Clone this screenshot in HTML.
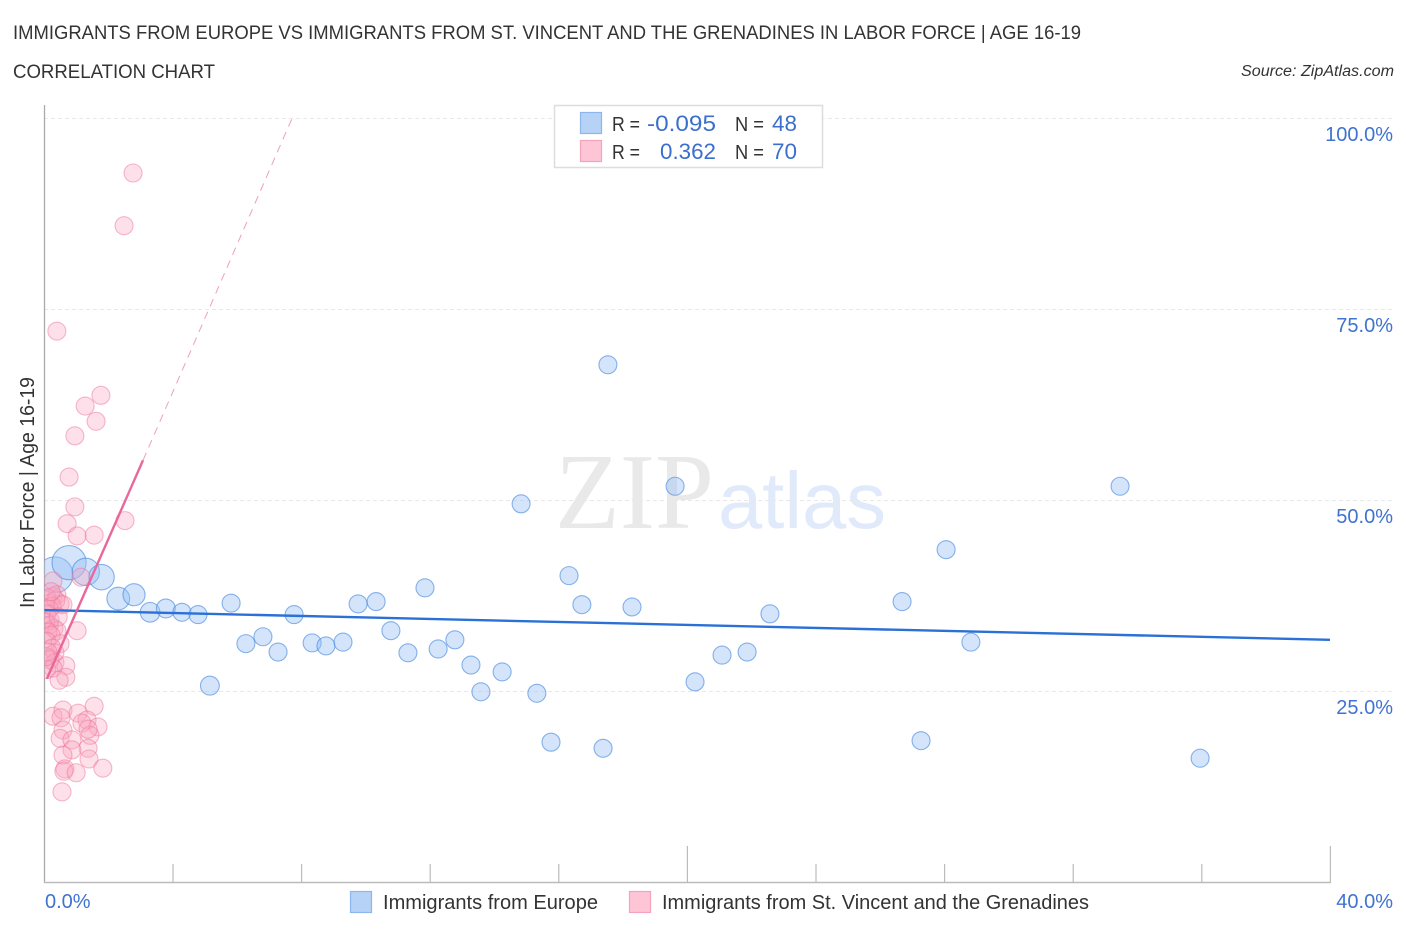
<!DOCTYPE html>
<html lang="en">
<head>
<meta charset="utf-8">
<title>Immigrants from Europe vs Immigrants from St. Vincent and the Grenadines in Labor Force | Age 16-19</title>
<style>
html,body{margin:0;padding:0;background:#fff;}
svg{display:block;font-family:"Liberation Sans",sans-serif;}
</style>
</head>
<body>
<svg id="chart" xmlns="http://www.w3.org/2000/svg" width="1406" height="930" viewBox="0 0 1406 930">
  <defs>
    <clipPath id="plot-clip"><rect x="44.5" y="100" width="1350" height="782"/></clipPath>
  </defs>
  <rect x="0" y="0" width="1406" height="930" fill="#fff"/>

  <text x="13" y="39" font-size="19.5" fill="#333" textLength="1068" lengthAdjust="spacingAndGlyphs">IMMIGRANTS FROM EUROPE VS IMMIGRANTS FROM ST. VINCENT AND THE GRENADINES IN LABOR FORCE | AGE 16-19</text>
  <text x="13" y="78" font-size="19.5" fill="#333" textLength="202" lengthAdjust="spacingAndGlyphs">CORRELATION CHART</text>
  <text x="1241" y="76" font-size="15.5" font-style="italic" fill="#333" textLength="153" lengthAdjust="spacingAndGlyphs">Source: ZipAtlas.com</text>

  <g>
    <text x="555" y="528" font-family="'Liberation Serif',serif" font-size="108" fill="#e9e9e9" textLength="159" lengthAdjust="spacingAndGlyphs">ZIP</text>
    <text x="718" y="528" font-size="80" fill="#e0eafa" textLength="168" lengthAdjust="spacingAndGlyphs">atlas</text>
  </g>

  <g id="grid"></g>
  <g id="axes"></g>
  <g id="marks-europe" clip-path="url(#plot-clip)"></g>
  <g id="marks-vincent" clip-path="url(#plot-clip)"></g>
  <g id="trends" clip-path="url(#plot-clip)"></g>
  <g id="labels"></g>

  <text transform="translate(34,608) rotate(-90)" font-size="20" fill="#333" textLength="231" lengthAdjust="spacingAndGlyphs">In Labor Force | Age 16-19</text>

  <g>
    <rect x="554.5" y="105.5" width="268" height="62" fill="#fff" stroke="#ddd" stroke-width="1.5"/>
    <rect x="580.5" y="112.5" width="21" height="21" fill="#b7d2f7" stroke="#8db6ec" stroke-width="1.2"/>
    <rect x="580.5" y="140.5" width="21" height="21" fill="#fdc5d6" stroke="#f4a3bd" stroke-width="1.2"/>
    <text x="612" y="131" font-size="20" fill="#333" textLength="28" lengthAdjust="spacingAndGlyphs">R =</text>
    <text x="647" y="131" font-size="22" fill="#3b6fce" textLength="69" lengthAdjust="spacingAndGlyphs">-0.095</text>
    <text x="735" y="131" font-size="20" fill="#333" textLength="29" lengthAdjust="spacingAndGlyphs">N =</text>
    <text x="772" y="131" font-size="22" fill="#3b6fce" textLength="25" lengthAdjust="spacingAndGlyphs">48</text>
    <text x="612" y="159" font-size="20" fill="#333" textLength="28" lengthAdjust="spacingAndGlyphs">R =</text>
    <text x="660" y="159" font-size="22" fill="#3b6fce" textLength="56" lengthAdjust="spacingAndGlyphs">0.362</text>
    <text x="735" y="159" font-size="20" fill="#333" textLength="29" lengthAdjust="spacingAndGlyphs">N =</text>
    <text x="772" y="159" font-size="22" fill="#3b6fce" textLength="25" lengthAdjust="spacingAndGlyphs">70</text>
  </g>

  <g>
    <g>
      <rect x="350.5" y="891.5" width="21" height="21" fill="#b7d2f7" stroke="#8db6ec" stroke-width="1.2"/>
      <text x="383" y="909" font-size="20" fill="#333" textLength="215" lengthAdjust="spacingAndGlyphs">Immigrants from Europe</text>
    </g>
    <g>
      <rect x="629.5" y="891.5" width="21" height="21" fill="#fdc5d6" stroke="#f4a3bd" stroke-width="1.2"/>
      <text x="662" y="909" font-size="20" fill="#333" textLength="427" lengthAdjust="spacingAndGlyphs">Immigrants from St. Vincent and the Grenadines</text>
    </g>
  </g>
</svg>

<script>
const yTickValues = [100, 75, 50, 25];
const yTickLabels = ["100.0%", "75.0%", "50.0%", "25.0%"];
const xTickValues = [0, 4, 8, 12, 16, 20, 24, 28, 32, 36, 40];
const xTickMajor = [false, false, false, false, false, true, false, false, false, false, true];
const xEndLabels = ["0.0%", "40.0%"];

const europeX = [0.34,0.78,1.30,1.79,2.31,2.80,3.30,3.79,4.29,4.79,5.82,5.16,6.28,6.81,7.28,7.78,8.34,8.77,9.30,9.77,10.33,10.79,11.32,11.85,12.26,12.78,13.28,13.59,14.25,14.84,15.33,15.77,16.33,16.73,17.39,17.54,18.29,19.63,20.25,21.09,21.87,22.58,26.69,27.28,28.06,28.83,33.47,35.96];
const europeY = [40.2,41.8,40.6,39.9,37.1,37.6,35.3,35.8,35.3,35.0,36.5,25.7,31.2,32.1,30.1,35.0,31.3,30.9,31.4,36.4,36.7,32.9,30.0,38.5,30.5,31.7,28.4,24.9,27.5,49.5,24.7,18.3,40.1,36.3,17.5,67.7,36.0,51.8,26.2,29.7,30.1,35.1,36.7,18.5,43.5,31.4,51.8,16.2];
const europeWeight = [4.0,3.6,2.3,2.0,1.6,1.5,1.2,1.1,1,1,1,1.1,1,1,1,1,1,1,1,1,1,1,1,1,1,1,1,1,1,1,1,1,1,1,1,1,1,1,1,1,1,1,1,1,1,1,1,1];

const vincentX = [2.77,2.49,0.40,1.77,1.28,1.62,0.96,0.78,0.96,0.72,2.52,1.03,1.56,1.15,0.28,0.28,0.40,0.09,0.19,0.50,0.37,0.16,0.25,0.59,0.09,0.19,0.06,0.31,0.16,1.03,0.40,0.12,0.22,0.09,0.50,0.25,0.34,0.12,0.19,0.34,0.68,0.28,0.09,0.68,0.47,1.56,0.28,0.59,0.53,1.06,1.34,1.18,1.68,1.43,0.59,0.50,0.87,1.37,0.87,0.59,1.40,0.65,0.62,1.00,1.83,0.56,0.06,0.44,0.22,1.37];
const vincentY = [92.8,85.9,72.1,63.7,62.3,60.3,58.4,53.0,49.1,46.9,47.3,45.3,45.4,39.9,39.4,37.4,37.6,37.2,36.5,36.4,36.9,35.7,36.1,36.3,35.1,34.3,34.0,33.2,33.6,32.9,32.9,32.7,32.3,31.5,31.2,30.6,30.0,30.1,29.1,28.7,28.3,28.0,27.8,26.8,26.4,23.0,21.7,22.5,21.5,22.1,21.2,20.8,20.3,19.2,19.9,18.8,18.6,17.5,17.3,16.6,16.1,14.8,14.5,14.3,14.9,11.8,29.5,34.7,38.0,20.0];

const europeTrendX = [0, 40];
const europeTrendY = [35.6, 31.7];
const vincentSolidX = [0.09, 3.08];
const vincentSolidY = [26.6, 55.2];
const vincentDashX = [3.08, 7.72];
const vincentDashY = [55.2, 100];

const SVG_NS = "http://www.w3.org/2000/svg";
function xScale(v) { return 44 + v * 32.15; }
function yScale(v) { return 882 - v * 7.64; }
function radius(w) { return 9 * Math.sqrt(w); }
function make(tag, attrs, parent) {
  const el = document.createElementNS(SVG_NS, tag);
  for (const k in attrs) el.setAttribute(k, attrs[k]);
  parent.appendChild(el);
  return el;
}

const gridG = document.getElementById("grid");
const axesG = document.getElementById("axes");
const labelsG = document.getElementById("labels");
const europeG = document.getElementById("marks-europe");
const vincentG = document.getElementById("marks-vincent");
const trendsG = document.getElementById("trends");

yTickValues.forEach(function (v, i) {
  const line = make("line", {x1: 44, x2: 1394, y1: yScale(v) + 0.5, y2: yScale(v) + 0.5, stroke: "#e8e8e8", "stroke-width": 1, "stroke-dasharray": "4 3"}, gridG);
  
  
  const label = make("text", {x: 1393, y: yScale(v) + 23, "text-anchor": "end", "font-size": 20, fill: "#3f73d0"}, labelsG);
  
  
  label.textContent = yTickLabels[i];
});

const yAxisLine = make("line", {x1: 44.5, x2: 44.5, y1: 105, y2: 883, stroke: "#aaa", "stroke-width": 1.3}, axesG);


const xAxisLine = make("line", {x1: 44, x2: 1331, y1: 882.5, y2: 882.5, stroke: "#bbb", "stroke-width": 1.5}, axesG);



xTickValues.forEach(function (v, i) {
  if (v === 0) return;
  const top = xTickMajor[i] ? 846 : 864;
  const tick = make("line", {x1: xScale(v) + 0.4, x2: xScale(v) + 0.4, y1: top, y2: 882, stroke: "#bbb", "stroke-width": 1.2}, axesG);
  
  
});

const xLabelStart = make("text", {x: 45, y: 908, "font-size": 20, fill: "#3f73d0"}, labelsG);


xLabelStart.textContent = xEndLabels[0];
const xLabelEnd = make("text", {x: 1393, y: 908, "text-anchor": "end", "font-size": 20, fill: "#3f73d0"}, labelsG);


xLabelEnd.textContent = xEndLabels[1];

europeX.forEach(function (v, i) {
  const c = make("circle", {cx: xScale(v), cy: yScale(europeY[i]), r: radius(europeWeight[i]), fill: "rgba(150,190,245,0.42)", stroke: "rgba(70,135,220,0.62)", "stroke-width": 1.1}, europeG);
  
  
});

vincentX.forEach(function (v, i) {
  const c = make("circle", {cx: xScale(v), cy: yScale(vincentY[i]), r: 9, fill: "rgba(250,165,190,0.34)", stroke: "rgba(238,115,155,0.5)", "stroke-width": 1.1}, vincentG);
  
  
});

const europeTrend = make("line", {x1: xScale(europeTrendX[0]), y1: yScale(europeTrendY[0]), x2: xScale(europeTrendX[1]), y2: yScale(europeTrendY[1]), stroke: "#2b70d6", "stroke-width": 2.4}, trendsG);


const vincentSolid = make("line", {x1: xScale(vincentSolidX[0]), y1: yScale(vincentSolidY[0]), x2: xScale(vincentSolidX[1]), y2: yScale(vincentSolidY[1]), stroke: "#e8689a", "stroke-width": 2.4}, trendsG);


const vincentDash = make("line", {x1: xScale(vincentDashX[0]), y1: yScale(vincentDashY[0]), x2: xScale(vincentDashX[1]), y2: yScale(vincentDashY[1]), stroke: "#eda0bb", "stroke-width": 1, "stroke-dasharray": "8 6"}, trendsG);


</script>
</body>
</html>
